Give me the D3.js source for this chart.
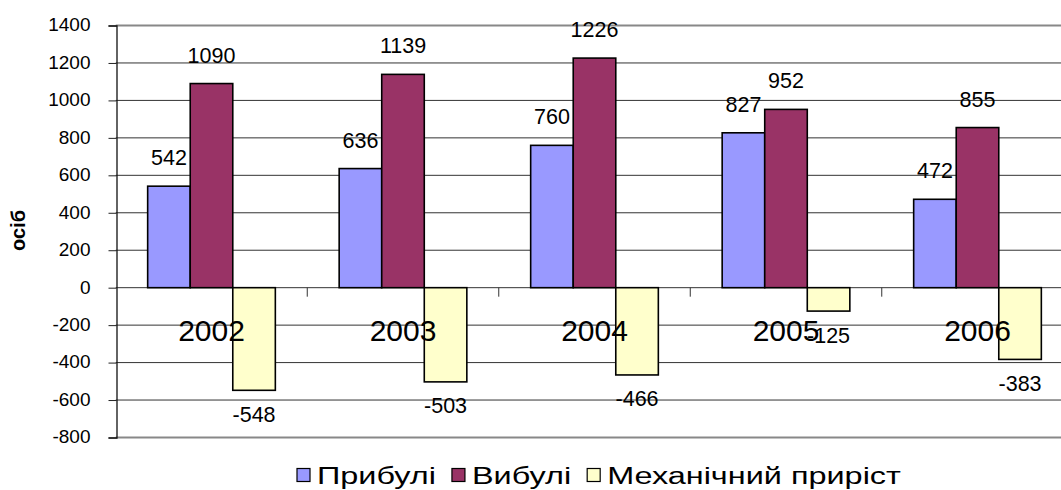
<!DOCTYPE html>
<html>
<head>
<meta charset="utf-8">
<script src="https://cdn.jsdelivr.net/npm/d3@7"></script>
<style>
  body { margin: 0; background: #fff; }
  svg { display: block; font-family: Arial, "Liberation Sans", sans-serif; }
</style>
</head>
<body>
<svg id="chart" width="1061" height="490"></svg>
<script>
// chart data
var years = ["2002", "2003", "2004", "2005", "2006"];
var arrived = [542, 636, 760, 827, 472];
var departed = [1090, 1139, 1226, 952, 855];
var netGrowth = [-548, -503, -466, -125, -383];
var seriesNames = ["Прибулі", "Вибулі", "Механічний приріст"];
var seriesColors = ["#9999ff", "#993366", "#ffffcc"];
var yTicks = [-800, -600, -400, -200, 0, 200, 400, 600, 800, 1000, 1200, 1400];
var yTitle = "осіб";

var svg = d3.select("#chart");

// plot area (the right edge runs past the picture, like the original)
var plot = {left: 115.75, right: 1073.25, top: 25.5, bottom: 437.5};

var x = d3.scaleBand()
    .domain(years)
    .range([plot.left, plot.right]);

var barW = x.bandwidth() / 4.5;   // excel gap width 150%
var xSub = d3.scaleBand()
    .domain(seriesNames)
    .range([0.75 * barW, 3.75 * barW]);

var y = d3.scaleLinear()
    .domain([yTicks[0], yTicks[yTicks.length - 1]])
    .range([plot.bottom, plot.top]);

var rows = years.map(function(yr, i) {
  return {year: yr, values: [arrived[i], departed[i], netGrowth[i]]};
});

// gridlines
svg.append("g")
  .selectAll("line")
  .data(yTicks)
  .enter().append("line")
    .attr("x1", plot.left)
    .attr("x2", 1061)
    .attr("y1", function(d) { return y(d); })
    .attr("y2", function(d) { return y(d); })
    .attr("stroke", function(d, i) { return (i == 0 || i == yTicks.length - 1) ? "#888" : "#333"; })
    .attr("stroke-width", function(d, i) { return (i == 0 || i == yTicks.length - 1) ? 2 : 1; });

// y axis
var yAxis = svg.append("g")
    .attr("transform", "translate(" + (plot.left + 0.75) + ",0)")
    .call(d3.axisLeft(y).tickValues(yTicks).tickSize(8).tickPadding(18)
      .tickFormat(function(d) { return String(d); }));
yAxis.select(".domain").attr("stroke", "#111").attr("stroke-width", 1.3);
yAxis.selectAll(".tick line").attr("stroke", "#222");
yAxis.selectAll(".tick text")
    .attr("font-size", 19)
    .attr("font-family", "Arial, 'Liberation Sans', sans-serif")
    .attr("fill", "#000")
    .attr("dy", "0.28em");

// bars
var groups = svg.append("g")
  .selectAll("g")
  .data(rows)
  .enter().append("g")
    .attr("transform", function(d) { return "translate(" + x(d.year) + ",0)"; });

groups.selectAll("rect")
  .data(function(d) { return d.values; })
  .enter().append("rect")
    .attr("x", function(d, i) { return xSub(seriesNames[i]); })
    .attr("width", xSub.bandwidth())
    .attr("y", function(d) { return y(Math.max(0, d)); })
    .attr("height", function(d) { return Math.abs(y(d) - y(0)); })
    .attr("fill", function(d, i) { return seriesColors[i]; })
    .attr("stroke", "#000")
    .attr("stroke-width", 1.6);

// data labels
groups.selectAll("text.val")
  .data(function(d) { return d.values; })
  .enter().append("text")
    .attr("class", "val")
    .attr("x", function(d, i) { return xSub(seriesNames[i]) + xSub.bandwidth() / 2; })
    .attr("y", function(d) { return d >= 0 ? y(d) - 21 : y(d) + 31.5; })
    .attr("text-anchor", "middle")
    .attr("font-size", 21.5)
    .attr("fill", "#000")
    .text(function(d) { return String(d); });

// category ticks at band edges
svg.append("g")
  .selectAll("line")
  .data(years.slice(1))
  .enter().append("line")
    .attr("x1", function(d) { return x(d); })
    .attr("x2", function(d) { return x(d); })
    .attr("y1", y(0))
    .attr("y2", y(0) + 9)
    .attr("stroke", "#333");

// category labels (drawn over the bars)
svg.append("g")
  .selectAll("text")
  .data(years)
  .enter().append("text")
    .attr("x", function(d) { return x(d) + x.bandwidth() / 2; })
    .attr("y", y(0) + 53)
    .attr("text-anchor", "middle")
    .attr("font-size", 30)
    .attr("fill", "#000")
    .text(function(d) { return d; });

// y title
svg.append("text")
    .attr("transform", "translate(25," + 230.5 + ") rotate(-90)")
    .attr("text-anchor", "middle")
    .attr("font-size", 20)
    .attr("font-weight", "bold")
    .attr("fill", "#000")
    .text(yTitle);

// legend
var legendStretch = 1.41;
var lg = svg.append("g");
var lx = 297;
seriesNames.forEach(function(name, i) {
  lg.append("rect")
    .attr("x", lx)
    .attr("y", 468.5)
    .attr("width", 13)
    .attr("height", 13)
    .attr("fill", seriesColors[i])
    .attr("stroke", "#000")
    .attr("stroke-width", 1.2);
  var t = lg.append("text")
    .attr("transform", "translate(" + (lx + 20) + ",483.5) scale(" + legendStretch + ",1)")
    .attr("font-size", 23)
    .attr("fill", "#000")
    .text(name);
  var w = t.node().getComputedTextLength() * legendStretch;
  lx = lx + 20 + w + 16;
});
</script>
</body>
</html>
